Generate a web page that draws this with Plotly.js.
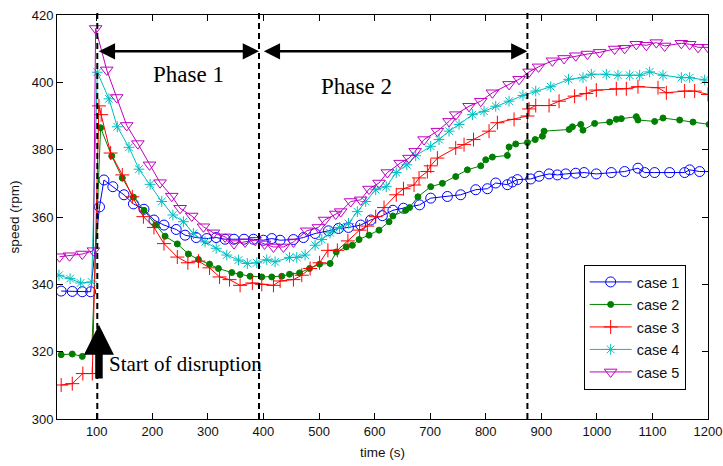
<!DOCTYPE html>
<html>
<head>
<meta charset="utf-8">
<script src="https://cdn.plot.ly/plotly-3.0.1.min.js"></script>
<style>
html,body{margin:0;padding:0;background:#fff;}
#chart{width:723px;height:466px;}
</style>
</head>
<body>
<div id="chart"></div>
<script>
// ---- data ----
var seriesNames = ["case 1", "case 2", "case 3", "case 4", "case 5"];

var t1 = [36,56,74,89,105,113,129,149,166,185,203,221,243,259,279,298,315,331,347,365,382,400,415,430,454,472,493,517,535,553,575,593,614,633,652,681,701,731,755,782,803,818,839,848,857,881,896,914,929,944,962,977,999,1026,1050,1074,1086,1104,1131,1158,1167,1185,1215];
var v1 = [338,337.9,337.8,337.8,363,371,369,366.6,363.9,362.3,359.1,357.6,356.3,354.6,353.9,353.6,353.9,353.4,353.4,353.4,353.4,353.1,353.6,353.1,353.3,353.9,355.1,355.9,356.6,356.9,357.6,359.1,360.4,362,362.6,363.6,365.6,366.1,366.6,368.1,368.4,370.1,369.6,370.4,371.1,371.3,372.1,372.8,372.5,372.8,373,373.2,372.8,373.2,373.5,374.5,373.2,373.2,373.2,373.2,374,373.5,373.5];

var t2 = [36,56,74,91,107,127,146,166,185,206,223,245,265,283,303,319,343,358,376,397,415,433,447,465,483,501,520,531,549,560,572,590,608,626,633,656,663,678,701,722,746,767,791,800,812,839,842,854,875,889,902,905,950,956,971,975,996,1023,1035,1044,1071,1074,1104,1119,1149,1173,1202];
var v2 = [319.1,319.3,318.6,320.3,386.5,378.1,371.6,365.9,362,357.6,354.3,352,349,347.4,346,344.7,343.5,342.9,342.4,342.2,342.2,342.4,343,343.4,344.7,346,346.2,349.6,351.1,351.6,353.3,354.6,356.1,358.6,360.3,362,362.8,366,369,370,372,374,375.2,377,377.8,378.3,380.8,381.7,382.1,383,384,385.5,386,386.8,387.5,385.8,387.8,388.2,389,389.2,389.8,388.8,388.4,389.4,388.8,388.2,387.5];

var t3 = [36,56,75,92,104,108,125,146,164,184,203,221,245,264,283,303,321,339,358,380,397,418,430,454,469,484,501,516,533,552,573,587,602,617,639,652,671,680,695,701,713,746,761,778,806,821,851,875,878,890,914,932,960,981,999,1035,1053,1074,1110,1125,1158,1176,1200,1215];
var v3 = [310.1,310.5,313.5,313.5,393,390.4,379,372.5,366,360.1,356.9,352.1,348.1,346.4,346.9,344.9,342.2,341.4,339.7,340.4,340,339.7,341,341.4,342.7,344.7,346.4,350.1,350.1,352.9,356.1,357.3,360.1,362.8,366.6,368.4,369.5,371.6,373.5,375.2,377.5,380.5,381.5,383,385.5,388,389,390,392.1,393.1,393.1,394.4,395.9,396.7,397.7,398.1,398.1,398.7,398.4,396.9,397.4,397.4,396.4,395.5];

var t4 = [32,52,71,91,101,122,137,158,176,196,217,237,256,274,295,315,334,355,371,388,406,421,447,460,475,493,505,520,537,553,569,584,602,621,639,658,674,701,716,734,752,776,797,818,842,867,890,917,949,975,990,1017,1038,1059,1077,1095,1119,1152,1167,1194];
var v4 = [342.7,341.7,340.4,340.7,403,395.1,386.8,380.7,374.2,369.7,364.6,360.6,358.6,355.1,352.6,350.7,348.7,347.2,346.2,346.4,347.3,346.7,348,348,348.7,351.6,353.3,355.3,356.9,358.1,361.6,364.6,368.1,369,373.2,375.5,378.2,381,383,385.5,387.5,390.4,391.4,392.9,394.4,396.1,397.4,398.7,400.9,401.4,402.4,402.4,402.1,402.1,402.1,403.1,402.1,401.4,401.4,400.7];

var t5 = [33,51,74,94,98,118,136,154,174,195,214,235,250,271,292,310,331,347,367,385,402,418,436,454,478,499,510,530,539,557,575,590,608,623,646,662,673,689,713,734,746,770,791,812,842,860,878,895,920,941,962,983,1005,1032,1050,1071,1089,1107,1122,1152,1167,1182,1200];
var v5 = [348.2,348.5,349,350,416,403.7,395.5,387.2,381.8,375.5,370.2,366.2,362.6,360.3,357.1,355.3,354.1,352.1,352.6,353.1,352,351.1,351.1,352.6,355.9,356.9,359.1,360.9,361.6,364.6,365.1,368.3,370.1,373.2,376,377.5,379.5,383,385.5,388.4,390.4,392.9,394.4,396.9,399.4,400.9,403.1,404.6,406.4,407.1,407.9,408.4,408.9,409.9,410.1,411.3,411,411.8,410.8,411.6,411.3,410.4,410.4];

var xTicks = [100,200,300,400,500,600,700,800,900,1000,1100,1200];
var yTicks = [300,320,340,360,380,400,420];

// phase markers (time, s)
var phaseBounds = [101, 392, 875];
var phaseLabels = ["Phase 1", "Phase 2"];
var disruptionLabel = "Start of disruption";

// ---- styling ----
var colors = ["#0000ff", "#008000", "#ff0000", "#00bfbf", "#bf00bf"];
var symbols = ["circle-open", "circle", "cross-thin-open", "asterisk-open", "triangle-down-open"];
var sizes = [10, 6, 10, 9, 11];

var xs = [t1, t2, t3, t4, t5];
var ys = [v1, v2, v3, v4, v5];

var traces = xs.map(function (x, i) {
  return {
    type: "scatter",
    mode: "lines+markers",
    name: '<span style="font-size:14.5px">' + seriesNames[i] + '</span>',
    x: x,
    y: ys[i],
    line: { color: colors[i], width: 1 },
    marker: { symbol: symbols[i], size: sizes[i], color: colors[i], line: { color: colors[i], width: 1 } }
  };
});

var shapes = phaseBounds.map(function (b) {
  return {
    type: "line", xref: "x", yref: "paper", x0: b, x1: b, y0: 0, y1: 1.006,
    line: { color: "#000", width: 2, dash: "6px,4px" }
  };
});

var arrowY = 409.2;
var annotations = [
  { x: phaseBounds[1], y: arrowY, ax: phaseBounds[0], ay: arrowY, xref: "x", yref: "y", axref: "x", ayref: "y",
    text: "", showarrow: true, arrowhead: 2, startarrowhead: 2, arrowside: "end+start",
    arrowwidth: 2.5, arrowsize: 1.3, startarrowsize: 1.3, arrowcolor: "#000" },
  { x: phaseBounds[2], y: arrowY, ax: phaseBounds[1] + 6, ay: arrowY, xref: "x", yref: "y", axref: "x", ayref: "y",
    text: "", showarrow: true, arrowhead: 2, startarrowhead: 2, arrowside: "end+start",
    arrowwidth: 2.5, arrowsize: 1.3, startarrowsize: 1.3, arrowcolor: "#000" },
  { x: 266, y: 402.4, xref: "x", yref: "y", text: phaseLabels[0], showarrow: false,
    font: { family: "Liberation Serif, Times New Roman, serif", size: 23, color: "#000" } },
  { x: 568, y: 398.7, xref: "x", yref: "y", text: phaseLabels[1], showarrow: false,
    font: { family: "Liberation Serif, Times New Roman, serif", size: 23, color: "#000" } },
  { x: 119, y: 316.2, xref: "x", yref: "y", xanchor: "left", text: disruptionLabel, showarrow: false,
    font: { family: "Liberation Serif, Times New Roman, serif", size: 21, color: "#000" } },
  { x: 104, y: 328.0, ax: 104, ay: 311.6, xref: "x", yref: "y", axref: "x", ayref: "y",
    text: "", showarrow: true, arrowhead: 2, arrowwidth: 7.5, arrowsize: 0.8, arrowcolor: "#000" }
];

var tickFont = { family: "Liberation Sans, Arial, sans-serif", size: 13, color: "#111" };
var titleFont = { family: "Liberation Sans, Arial, sans-serif", size: 13.5, color: "#111" };

var layout = {
  width: 723,
  height: 466,
  margin: { l: 57, r: 15, t: 15, b: 47 },
  paper_bgcolor: "#fff",
  plot_bgcolor: "#fff",
  showlegend: true,
  legend: {
    x: 0.809, y: 0.382, xanchor: "left", yanchor: "top",
    bgcolor: "#fff", bordercolor: "#000", borderwidth: 1,
    font: { family: "Liberation Sans, Arial, sans-serif", size: 15, color: "#111" },
    itemwidth: 42
  },
  xaxis: {
    range: [28.5, 1200],
    tickvals: xTicks,
    ticktext: xTicks.map(String),
    ticks: "inside", ticklen: 6, tickwidth: 1, tickcolor: "#000",
    showline: true, linecolor: "#000", linewidth: 1, mirror: "ticks",
    showgrid: false, zeroline: false,
    tickfont: tickFont,
    title: { text: "time (s)", font: titleFont, standoff: 9 }
  },
  yaxis: {
    range: [300, 420],
    tickvals: yTicks,
    ticktext: yTicks.map(String),
    ticks: "inside", ticklen: 6, tickwidth: 1, tickcolor: "#000",
    showline: true, linecolor: "#000", linewidth: 1, mirror: "ticks",
    showgrid: false, zeroline: false,
    tickfont: tickFont,
    title: { text: "speed (rpm)", font: titleFont, standoff: 8 }
  },
  shapes: shapes,
  annotations: annotations
};

Plotly.newPlot("chart", traces, layout, { displayModeBar: false, staticPlot: true });
</script>
</body>
</html>
